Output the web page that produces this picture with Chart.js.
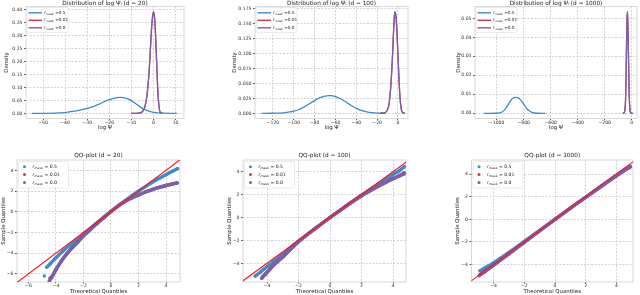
<!DOCTYPE html>
<html><head><meta charset="utf-8">
<script src="https://cdn.jsdelivr.net/npm/chart.js@4.4.1/dist/chart.umd.min.js"></script>
<style>
html,body{margin:0;padding:0;background:#fff;width:640px;height:295px;overflow:hidden;position:relative;}
canvas{position:absolute;}
</style></head><body>
<canvas id="c1"></canvas><canvas id="c2"></canvas><canvas id="c3"></canvas>
<canvas id="c4"></canvas><canvas id="c5"></canvas><canvas id="c6"></canvas>
<script>
// ---------------- DATA ----------------
const rValues = ['0.5', '0.01', '0.0'];
const dims = [20, 100, 1000];

// Density curves, d = 20
const d20BlueX = [-55, -50, -45, -40, -35, -30, -27, -24, -21, -18, -15, -13, -11, -9, -7, -5, -3, -1, 1, 3, 5, 8, 10.5];
const d20BlueY = [0, 0, 0.0005, 0.003, 0.009, 0.019, 0.027, 0.038, 0.05, 0.058, 0.062, 0.06, 0.054, 0.043, 0.031, 0.019, 0.011, 0.006, 0.003, 0.0015, 0.0005, 0, 0];
const d20RedX = [-10, -8, -6, -5, -4, -3, -2, -1.5, -1, -0.5, 0, 0.5, 1, 1.5, 2, 2.5, 3, 4];
const d20RedY = [0, 0, 0.002, 0.007, 0.023, 0.066, 0.161, 0.236, 0.311, 0.369, 0.393, 0.369, 0.289, 0.179, 0.08, 0.025, 0.005, 0];
const d20PurpleX = [-10, -8, -6, -5, -4, -3, -2, -1.5, -1, -0.5, 0, 0.5, 1, 1.5, 2, 2.5, 3, 4];
const d20PurpleY = [0, 0, 0.002, 0.007, 0.022, 0.065, 0.16, 0.235, 0.31, 0.37, 0.394, 0.37, 0.29, 0.18, 0.08, 0.025, 0.005, 0];

// Density curves, d = 100
const d100BlueX = [-131, -120, -110, -100, -95, -90, -85, -80, -75, -70, -65, -60, -55, -50, -45, -40, -35, -30, -25, -20, -12];
const d100BlueY = [0, 0.0001, 0.0008, 0.0035, 0.0063, 0.0107, 0.0158, 0.0212, 0.026, 0.0288, 0.0294, 0.0278, 0.0242, 0.0188, 0.0132, 0.0083, 0.0047, 0.0023, 0.001, 0.0003, 0];
const d100RedX = [-17, -13, -11, -9, -8, -7, -6, -5, -4, -3, -2, -1, 0, 1, 2, 3, 4, 6.5];
const d100RedY = [0, 0.0005, 0.003, 0.012, 0.024, 0.043, 0.07, 0.106, 0.146, 0.168, 0.162, 0.134, 0.094, 0.055, 0.025, 0.009, 0.002, 0];
const d100PurpleX = [-17, -13, -11, -9, -8, -7, -6, -5, -4, -3, -2, -1, 0, 1, 2, 3, 4, 6.5];
const d100PurpleY = [0, 0.0005, 0.003, 0.012, 0.024, 0.043, 0.07, 0.105, 0.145, 0.169, 0.163, 0.135, 0.095, 0.055, 0.025, 0.009, 0.002, 0];

// Density curves, d = 1000
const d1000BlueX = [-1095, -1000, -980, -960, -940, -920, -900, -880, -860, -840, -820, -800, -780, -760, -740, -720, -700, -640];
const d1000BlueY = [0, 0.00003, 0.0002, 0.0007, 0.0019, 0.004, 0.0063, 0.008, 0.0084, 0.0081, 0.0068, 0.0048, 0.0028, 0.0013, 0.0005, 0.00015, 0.00003, 0];
const d1000RedX = [-65, -55, -50, -46, -42, -38, -35, -32, -29, -26, -22, -18, -14, -10, -5, 10];
const d1000RedY = [0, 0.0003, 0.002, 0.006, 0.018, 0.037, 0.049, 0.0533, 0.049, 0.038, 0.023, 0.009, 0.003, 0.0007, 0.0001, 0];
const d1000PurpleX = [-65, -55, -50, -46, -42, -38, -35, -32, -29, -26, -22, -18, -14, -10, -5, 10];
const d1000PurpleY = [0, 0.0003, 0.002, 0.006, 0.018, 0.037, 0.049, 0.0535, 0.049, 0.038, 0.023, 0.009, 0.003, 0.0007, 0.0001, 0];

// QQ plots, d = 20
const qq20BlueTheo   = [-4.85, null, -4.68, -4.4, -4.0, -3.5, -3.0, -2.5, -2.0, -1.5, -1.0, -0.5, 0, 0.5, 1.0, 1.5, 2.0, 2.5, 3.0, 3.5, 4.0, 4.5, 4.85];
const qq20BlueSample = [-6.21, null, -5.37, -5.0, -4.45, -3.8, -3.25, -2.72, -2.15, -1.6, -1.05, -0.5, 0.02, 0.53, 1.03, 1.52, 1.98, 2.42, 2.85, 3.22, 3.58, 3.93, 4.18];
const qq20RedTheo    = [-4.44, -4.3, -4.0, -3.6, -3.2, -2.8, -2.4, -2.0, -1.5, -1.0, -0.5, 0, 0.5, 1.0, 1.5, 2.0, 2.5, 3.0, 3.5, 4.0, 4.5, 4.82];
const qq20RedSample  = [-6.43, -6.28, -5.58, -4.74, -4.04, -3.44, -2.9, -2.33, -1.72, -1.12, -0.55, 0.03, 0.55, 0.98, 1.32, 1.62, 1.9, 2.14, 2.35, 2.53, 2.68, 2.79];
const qq20PurpleTheo   = [-4.5, -4.3, -4.0, -3.6, -3.2, -2.8, -2.4, -2.0, -1.5, -1.0, -0.5, 0, 0.5, 1.0, 1.5, 2.0, 2.5, 3.0, 3.5, 4.0, 4.5, 4.82];
const qq20PurpleSample = [-6.75, -6.3, -5.6, -4.75, -4.05, -3.45, -2.9, -2.33, -1.72, -1.12, -0.55, 0.03, 0.55, 0.98, 1.32, 1.62, 1.9, 2.14, 2.35, 2.53, 2.68, 2.78];

// QQ plots, d = 100
const qq100BlueTheo   = [-4.76, -4.4, -4.0, -3.5, -3.0, -2.5, -2.0, -1.0, 0, 1.0, 2.0, 2.5, 3.0, 3.5, 4.0, 4.4, 4.72];
const qq100BlueSample = [-5.13, -4.75, -4.3, -3.75, -3.2, -2.62, -2.07, -1.02, 0.0, 1.0, 1.95, 2.4, 2.85, 3.3, 3.76, 4.08, 4.43];
const qq100RedTheo    = [-4.3, -4.1, -3.8, -3.5, -3.0, -2.5, -2.0, -1.0, 0, 1.0, 2.0, 2.5, 3.0, 3.5, 4.0, 4.4, 4.72];
const qq100RedSample  = [-5.2, -4.93, -4.48, -4.04, -3.44, -2.77, -2.11, -1.03, 0.0, 0.98, 1.9, 2.31, 2.69, 3.05, 3.4, 3.66, 3.9];
const qq100PurpleTheo   = [-4.34, -4.1, -3.8, -3.5, -3.0, -2.5, -2.0, -1.0, 0, 1.0, 2.0, 2.5, 3.0, 3.5, 4.0, 4.4, 4.72];
const qq100PurpleSample = [-5.33, -4.95, -4.5, -4.05, -3.45, -2.78, -2.12, -1.03, 0.0, 0.98, 1.9, 2.3, 2.68, 3.04, 3.38, 3.62, 3.82];

// QQ plots, d = 1000
const qq1000BlueTheo   = [-4.9, -4.5, -4.0, -3.0, -2.0, -1.0, 0, 1.0, 2.0, 3.0, 4.0, 4.5, 4.9];
const qq1000BlueSample = [-4.55, -4.25, -3.85, -2.93, -1.96, -0.98, 0.0, 0.98, 1.96, 2.93, 3.9, 4.36, 4.72];
const qq1000RedTheo    = [-4.9, -4.6, -4.0, -3.0, -2.0, -1.0, 0, 1.0, 2.0, 3.0, 4.0, 4.5, 4.9];
const qq1000RedSample  = [-4.9, -4.62, -4.05, -3.04, -2.03, -1.01, 0.0, 0.98, 1.95, 2.91, 3.86, 4.32, 4.64];
const qq1000PurpleTheo   = [-4.95, -4.6, -4.0, -3.0, -2.0, -1.0, 0, 1.0, 2.0, 3.0, 4.0, 4.5, 4.9];
const qq1000PurpleSample = [-5.0, -4.68, -4.08, -3.06, -2.04, -1.02, -0.01, 0.98, 1.95, 2.9, 3.85, 4.3, 4.6];

// 45-degree reference line
const refLine = [-9, 9];

// Tick values
const d20XTicks = [-50, -40, -30, -20, -10, 0, 10];
const d20YTicks = [0, 0.05, 0.10, 0.15, 0.20, 0.25, 0.30, 0.35, 0.40];
const d100XTicks = [-120, -100, -80, -60, -40, -20, 0];
const d100YTicks = [0, 0.025, 0.05, 0.075, 0.1, 0.125, 0.15, 0.175];
const d1000XTicks = [-1000, -800, -600, -400, -200, 0];
const d1000YTicks = [0, 0.01, 0.02, 0.03, 0.04, 0.05];
const qq20XTicks = [-6, -4, -2, 0, 2, 4];
const qq20YTicks = [-6, -4, -2, 0, 2, 4];
const qq100XTicks = [-4, -2, 0, 2, 4];
const qq100YTicks = [-4, -2, 0, 2, 4];
const qq1000XTicks = [-4, -2, 0, 2, 4];
const qq1000YTicks = [-4, -2, 0, 2, 4];

// ---------------- STYLE ----------------
const FONT = 'DejaVu Sans';
const BLUE = '#3b8ccc', RED = '#c73a4e', PURPLE = '#7c5eab', LINE_RED = '#ff1414';
const fT = 5.8, fA = 5.4, fK = 4.6;

function zip(xs, ys) { return xs.map((x, i) => ({x: x, y: ys[i]})); }
const minus = s => String(s).replace('-', '\u2212');

const framePlugin = {
  id: 'frame',
  beforeDatasetsDraw(chart) {
    const a = chart.chartArea, ctx = chart.ctx;
    ctx.save(); ctx.strokeStyle = '#cfcfcf'; ctx.lineWidth = 0.8;
    ctx.strokeRect(a.left, a.top, a.right - a.left, a.bottom - a.top);
    ctx.restore();
  }
};

const legendPlugin = {
  id: 'miniLegend',
  afterDatasetsDraw(chart, args, o) {
    if (!o || !o.items) return;
    const a = chart.chartArea, ctx = chart.ctx;
    ctx.save();
    const bx = a.left + o.box[0], by = a.top + o.box[1], bw = o.box[2], bh = o.box[3];
    ctx.beginPath();
    ctx.roundRect(bx, by, bw, bh, 1.5);
    ctx.fillStyle = 'rgba(255,255,255,0.85)'; ctx.fill();
    ctx.strokeStyle = '#dddddd'; ctx.lineWidth = 0.6; ctx.stroke();
    o.items.forEach((it, i) => {
      const y = a.top + o.rows[i];
      if (o.kind === 'line') {
        ctx.beginPath(); ctx.strokeStyle = it.color; ctx.lineWidth = 1.4;
        ctx.moveTo(a.left + o.mx[0], y); ctx.lineTo(a.left + o.mx[1], y); ctx.stroke();
      } else {
        ctx.beginPath(); ctx.fillStyle = it.color;
        ctx.arc(a.left + o.mx[0], y, 1.5, 0, Math.PI * 2); ctx.fill();
      }
      let x = a.left + o.tx;
      ctx.fillStyle = '#222'; ctx.textBaseline = 'middle'; ctx.textAlign = 'left';
      ctx.font = `italic ${o.fs}px "${FONT}"`;
      ctx.fillText('r', x, y); x += ctx.measureText('r').width + 0.2;
      ctx.font = `italic ${o.fs * 0.68}px "${FONT}"`;
      ctx.fillText('mask', x, y + o.fs * 0.28); x += ctx.measureText('mask').width;
      ctx.font = `${o.fs}px "${FONT}"`;
      ctx.fillText(o.eq + it.value, x, y);
    });
    ctx.restore();
  }
};

function panel(p) {
  const cv = document.getElementById(p.id);
  const W = p.R + 10 - p.cl, H = p.cb - p.ct;
  cv.width = W; cv.height = H;
  cv.style.left = p.cl + 'px'; cv.style.top = p.ct + 'px';
  cv.style.width = W + 'px'; cv.style.height = H + 'px';
  const tTop = Math.max(0, p.titleY - fT / 2 - p.ct);
  const tBot = (p.T - p.ct) - tTop - fT;
  const gridStyle = {color: '#d2d2d2', tickColor: '#555', drawTicks: true};
  const tickFont = {family: FONT, size: fK, lineHeight: 1.2};
  const chart = new Chart(cv, {
    type: 'scatter',
    data: {datasets: p.datasets},
    options: {
      responsive: false, animation: false, devicePixelRatio: 1,
      layout: {padding: {left: 0, top: 0, right: 10, bottom: 0}},
      plugins: {
        legend: {display: false}, tooltip: {enabled: false},
        title: {display: true, text: p.title, fullSize: false, color: '#222',
          font: {family: FONT, size: fT, lineHeight: 1, weight: 'normal'},
          padding: {top: tTop, bottom: tBot}},
        miniLegend: p.legend
      },
      scales: {
        x: {
          type: 'linear', position: 'bottom', min: p.xMin, max: p.xMax,
          afterBuildTicks: s => { s.ticks = p.xTicks.map(v => ({value: v})); },
          afterFit: s => { s.height = p.cb - p.B; },
          ticks: {font: tickFont, color: '#333', padding: 0, autoSkip: false, maxRotation: 0, minRotation: 0,
            callback: v => minus(p.xFmt ? p.xFmt(v) : v)},
          grid: Object.assign({tickLength: 1.5}, gridStyle),
          border: {display: false, dash: [2, 1.5]},
          title: {display: true, text: p.xTitle, color: '#222',
            font: {family: FONT, size: fA, lineHeight: 1},
            padding: {top: 0, bottom: p.cb - p.xTitleY - fA / 2}}
        },
        y: {
          type: 'linear', position: 'left', min: p.yMin, max: p.yMax,
          afterBuildTicks: s => { s.ticks = p.yTicks.map(v => ({value: v})); },
          afterFit: s => { s.width = p.L - p.cl; },
          ticks: {font: tickFont, color: '#333', padding: 1.5, autoSkip: false,
            callback: v => minus(p.yFmt ? p.yFmt(v) : v)},
          grid: Object.assign({tickLength: 2}, gridStyle),
          border: {display: false, dash: [2, 1.5]},
          title: {display: true, text: p.yTitle, color: '#222',
            font: {family: FONT, size: fA, lineHeight: 1},
            padding: {top: p.yTitleX - p.cl - fA / 2, bottom: 0}}
        }
      }
    },
    plugins: [framePlugin, legendPlugin]
  });
  return chart;
}

function curve(xs, ys, color, order) {
  return {data: zip(xs, ys), showLine: true, borderColor: color, borderWidth: 1.3,
    pointRadius: 0, tension: 0.35, order: order, fill: false};
}
function qqSeries(xs, ys, color, order) {
  return {data: zip(xs, ys), showLine: true, borderColor: color, backgroundColor: color,
    borderWidth: 3.4, pointRadius: 1.7, pointBorderWidth: 0, tension: 0.3, order: order, spanGaps: false};
}
function refSeries() {
  return {data: zip(refLine, refLine), showLine: true, borderColor: LINE_RED, borderWidth: 1.1,
    pointRadius: 0, order: 0};
}

const topLegend = {kind: 'line', box: [1, 1, 41, 25], mx: [2.5, 16], tx: 18, rows: [6.3, 13.8, 21.3], fs: 4.3, eq: ' =',
  items: [{color: BLUE, value: rValues[0]}, {color: RED, value: rValues[1]}, {color: PURPLE, value: rValues[2]}]};
const botLegend = {kind: 'dot', box: [1.5, 1.5, 50, 26.5], mx: [7.5], tx: 15.5, rows: [6.7, 14.5, 22.5], fs: 4.6, eq: ' = ',
  items: [{color: BLUE, value: rValues[0]}, {color: RED, value: rValues[1]}, {color: PURPLE, value: rValues[2]}]};

const fmt = n => (v => Number(v).toFixed(n));

panel({id: 'c1', cl: 0, ct: 0, cb: 131, L: 26, T: 6.5, R: 184, B: 118.5,
  titleY: 3, xTitleY: 127.7, yTitleX: 6.7,
  title: 'Distribution of log \u03A8\u1D62 (d = ' + dims[0] + ')', xTitle: 'log \u03A8', yTitle: 'Density',
  xMin: -57.7, xMax: 13.8, yMin: -0.0201, yMax: 0.41355,
  xTicks: d20XTicks, yTicks: d20YTicks, yFmt: fmt(2),
  legend: topLegend,
  datasets: [curve(d20PurpleX, d20PurpleY, PURPLE, 1), curve(d20RedX, d20RedY, RED, 2), curve(d20BlueX, d20BlueY, BLUE, 3)]});

panel({id: 'c2', cl: 215, ct: 0, cb: 131, L: 255, T: 6.5, R: 408, B: 118.5,
  titleY: 3, xTitleY: 127.7, yTitleX: 235,
  title: 'Distribution of log \u03A8\u1D62 (d = ' + dims[1] + ')', xTitle: 'log \u03A8', yTitle: 'Density',
  xMin: -137.2, xMax: 9.6, yMin: -0.00867, yMax: 0.178,
  xTicks: d100XTicks, yTicks: d100YTicks, yFmt: fmt(3),
  legend: topLegend,
  datasets: [curve(d100PurpleX, d100PurpleY, PURPLE, 1), curve(d100RedX, d100RedY, RED, 2), curve(d100BlueX, d100BlueY, BLUE, 3)]});

panel({id: 'c3', cl: 440, ct: 0, cb: 131, L: 475, T: 6.5, R: 637, B: 118.5,
  titleY: 3, xTitleY: 127.7, yTitleX: 459,
  title: 'Distribution of log \u03A8\u1D62 (d = ' + dims[2] + ')', xTitle: 'log \u03A8', yTitle: 'Density',
  xMin: -1160.7, xMax: 39.3, yMin: -0.00274, yMax: 0.05621,
  xTicks: d1000XTicks, yTicks: d1000YTicks, yFmt: fmt(2),
  legend: topLegend,
  datasets: [curve(d1000PurpleX, d1000PurpleY, PURPLE, 1), curve(d1000RedX, d1000RedY, RED, 2), curve(d1000BlueX, d1000BlueY, BLUE, 3)]});

panel({id: 'c4', cl: 0, ct: 148, cb: 295, L: 17, T: 160, R: 180, B: 282,
  titleY: 155, xTitleY: 291.5, yTitleX: 3.5,
  title: 'QQ-plot (d = ' + dims[0] + ')', xTitle: 'Theoretical Quantiles', yTitle: 'Sample Quantiles',
  xMin: -6.836, xMax: 5.018, yMin: -6.79, yMax: 4.995,
  xTicks: qq20XTicks, yTicks: qq20YTicks,
  legend: botLegend,
  datasets: [refSeries(), qqSeries(qq20PurpleTheo, qq20PurpleSample, PURPLE, 1),
    qqSeries(qq20RedTheo, qq20RedSample, RED, 2), qqSeries(qq20BlueTheo, qq20BlueSample, BLUE, 3)]});

panel({id: 'c5', cl: 215, ct: 148, cb: 295, L: 243, T: 160, R: 406, B: 282,
  titleY: 155, xTitleY: 291.5, yTitleX: 230,
  title: 'QQ-plot (d = ' + dims[1] + ')', xTitle: 'Theoretical Quantiles', yTitle: 'Sample Quantiles',
  xMin: -5.524, xMax: 4.825, yMin: -5.633, yMax: 5.022,
  xTicks: qq100XTicks, yTicks: qq100YTicks,
  legend: botLegend,
  datasets: [refSeries(), qqSeries(qq100PurpleTheo, qq100PurpleSample, PURPLE, 1),
    qqSeries(qq100RedTheo, qq100RedSample, RED, 2), qqSeries(qq100BlueTheo, qq100BlueSample, BLUE, 3)]});

panel({id: 'c6', cl: 440, ct: 148, cb: 295, L: 471.5, T: 160, R: 633, B: 282,
  titleY: 155, xTitleY: 291.5, yTitleX: 458,
  title: 'QQ-plot (d = ' + dims[2] + ')', xTitle: 'Theoretical Quantiles', yTitle: 'Sample Quantiles',
  xMin: -5.44, xMax: 5.08, yMin: -5.549, yMax: 5.248,
  xTicks: qq1000XTicks, yTicks: qq1000YTicks,
  legend: botLegend,
  datasets: [refSeries(), qqSeries(qq1000PurpleTheo, qq1000PurpleSample, PURPLE, 1),
    qqSeries(qq1000RedTheo, qq1000RedSample, RED, 2), qqSeries(qq1000BlueTheo, qq1000BlueSample, BLUE, 3)]});
</script>
</body></html>
